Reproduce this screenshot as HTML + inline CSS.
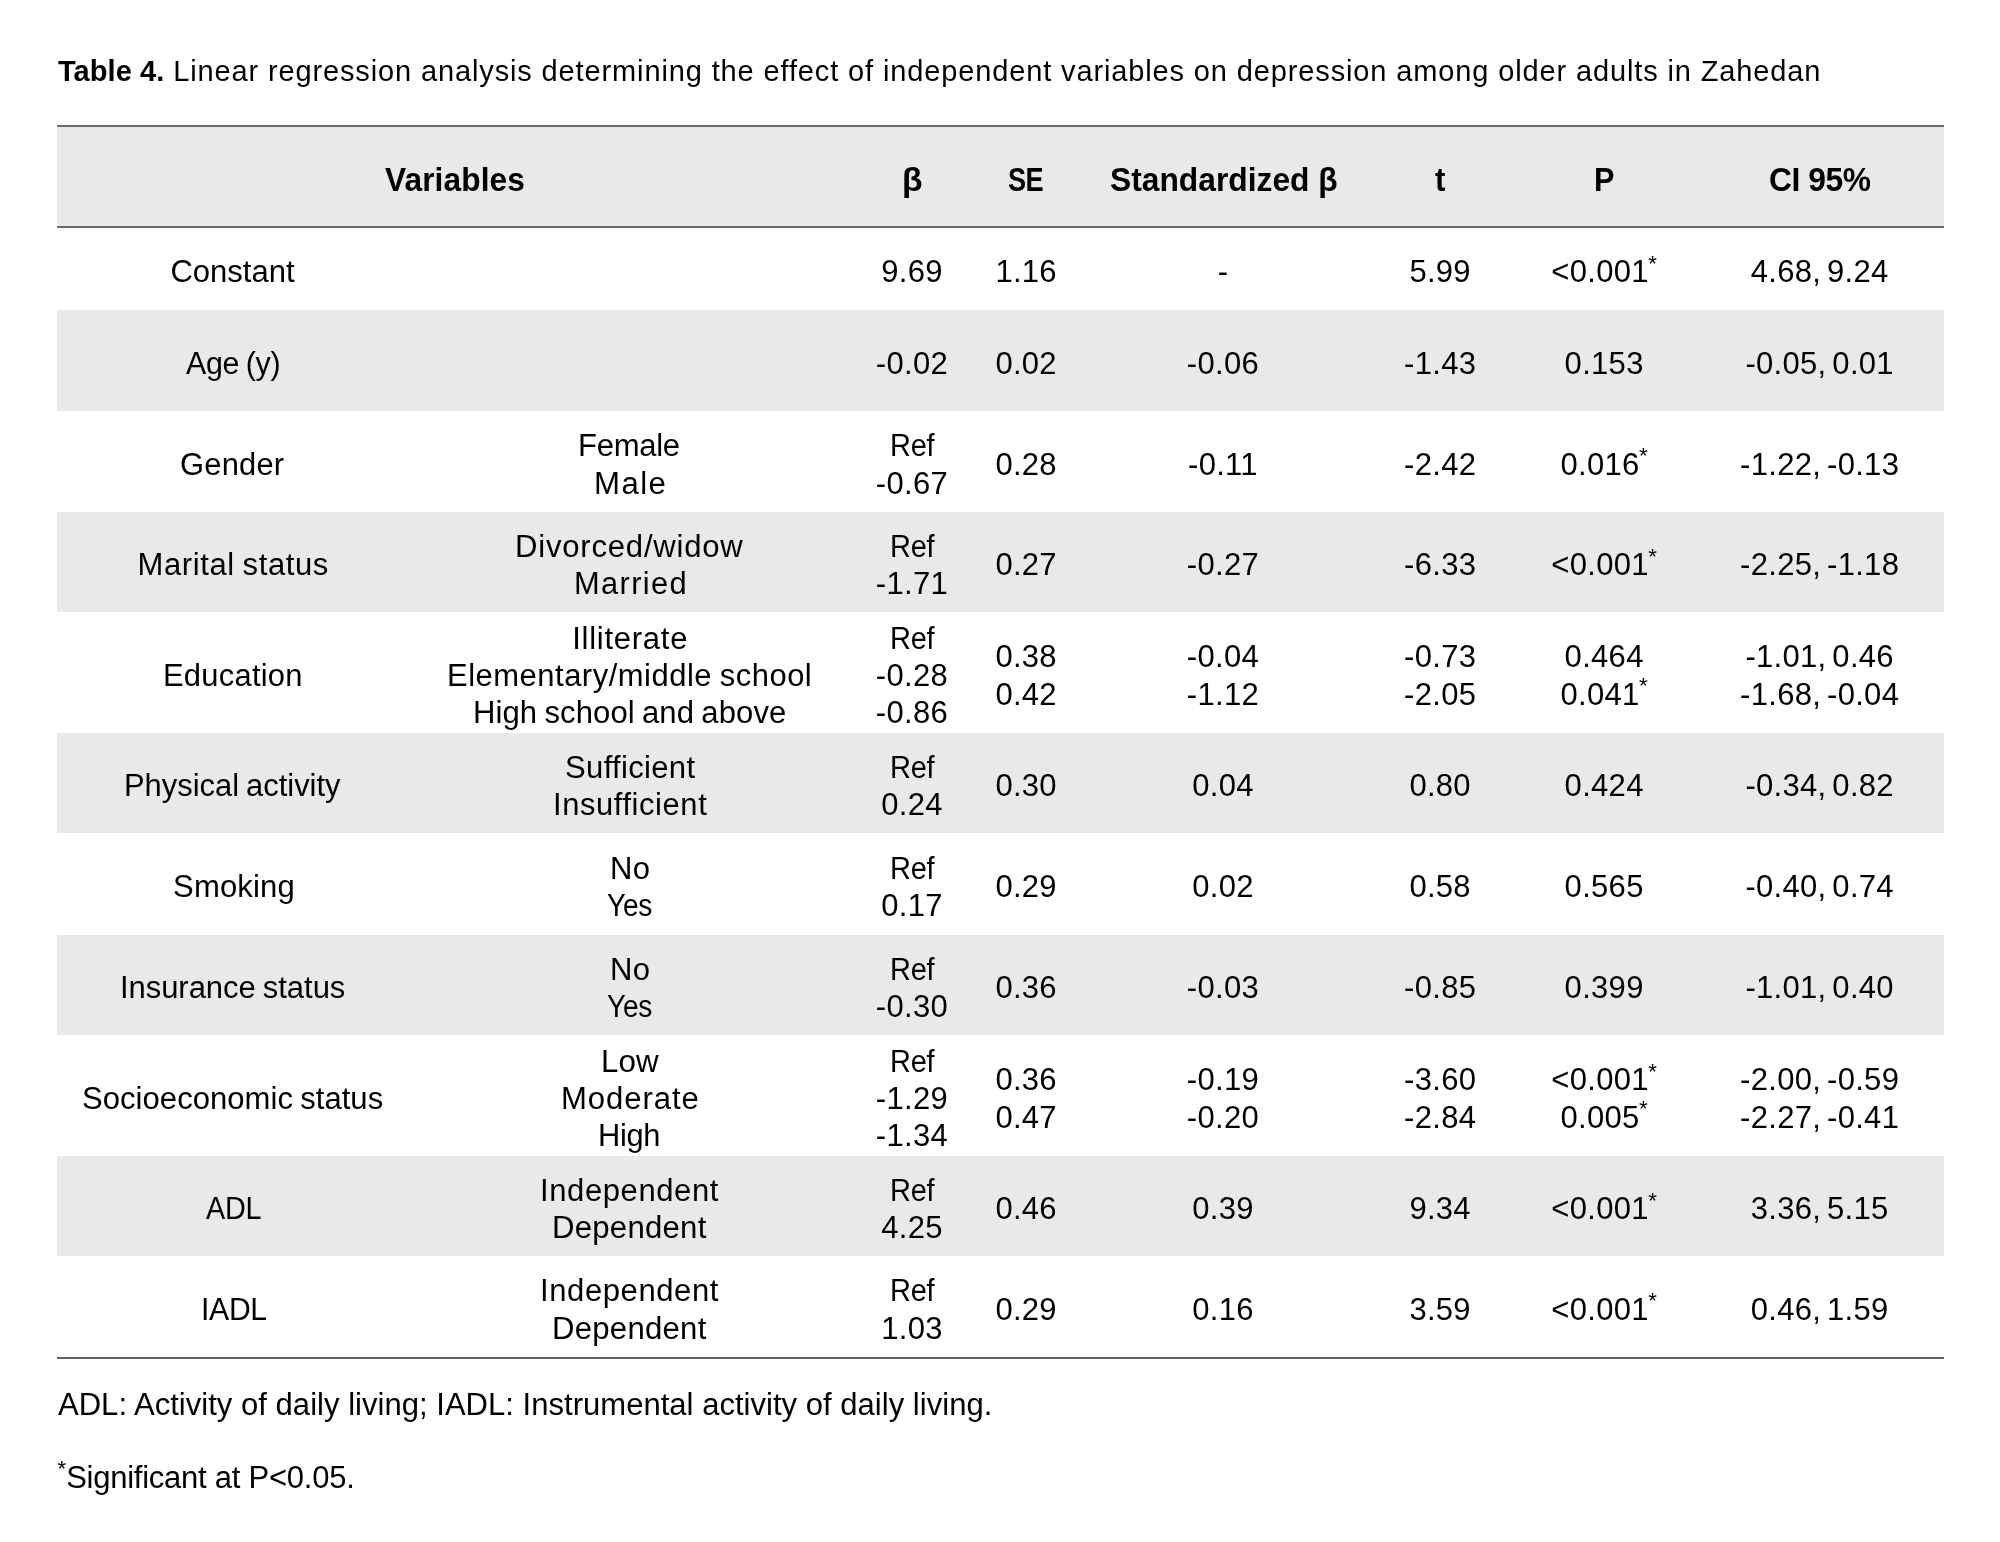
<!DOCTYPE html>
<html><head><meta charset="utf-8"><style>
html,body{margin:0;padding:0;background:#fff;}
body{width:2000px;height:1542px;position:relative;overflow:hidden;filter:grayscale(1);font-family:"Liberation Sans",sans-serif;color:#000;}
.bg{position:absolute;left:57px;width:1887px;background:#e9e9e9;}
.ln{position:absolute;left:57px;width:1887px;height:2px;background:#6f6f6f;}
.b,.h{position:absolute;white-space:pre;font-size:31.0px;line-height:31.0px;letter-spacing:0.3px;word-spacing:-1.5px;}
.C{width:700px;text-align:center;text-indent:0.3px;}
.L{transform-origin:0 0;}
.n{word-spacing:-3.0px;}
.h{font-weight:bold;font-size:33.4px;line-height:33.4px;letter-spacing:0;word-spacing:0;}
.h.C{transform:scaleX(0.95);text-indent:0;}
.a{font-size:0.72em;position:relative;top:-0.52em;margin-left:-0.5px;letter-spacing:0;}
.ti{position:absolute;left:58px;top:57.1px;font-size:29.0px;line-height:29.0px;white-space:pre;letter-spacing:0.87px;}
.fn{position:absolute;left:58px;font-size:31.0px;line-height:31.0px;white-space:pre;letter-spacing:0.03px;}
</style></head><body>
<div class="ti"><b style="letter-spacing:0.05px">Table 4.</b> Linear regression analysis determining the effect of independent variables on depression among older adults in Zahedan</div>
<div class="bg" style="top:310px;height:101px"></div>
<div class="bg" style="top:512px;height:100px"></div>
<div class="bg" style="top:733px;height:100px"></div>
<div class="bg" style="top:935px;height:100px"></div>
<div class="bg" style="top:1156px;height:100px"></div>
<div class="bg" style="top:125px;height:103px"></div>
<div class="ln" style="top:125px;background:#6b6b6b"></div>
<div class="ln" style="top:226px;background:#6b6b6b"></div>
<div class="ln" style="top:1357px;background:#626262"></div>
<div class="h L" style="left:384.5px;top:162.7px;letter-spacing:0.106px;transform:scaleX(0.9486)">Variables</div>
<div class="h L" style="left:901.8px;top:162.7px;letter-spacing:0.0px;transform:scaleX(1.0102)">β</div>
<div class="h L" style="left:1007.8px;top:162.7px;letter-spacing:-0.8px;transform:scaleX(0.8136)">SE</div>
<div class="h L" style="left:1109.7px;top:162.7px;letter-spacing:0.017px;transform:scaleX(0.9508)">Standardized β</div>
<div class="h L" style="left:1434.6px;top:162.7px;letter-spacing:0.0px;transform:scaleX(0.9341)">t</div>
<div class="h L" style="left:1593.8px;top:162.7px;letter-spacing:0.0px;transform:scaleX(0.9185)">P</div>
<div class="h L" style="left:1769.0px;top:162.7px;letter-spacing:-0.421px;transform:scaleX(0.9501)">CI 95%</div>
<div class="b L" style="left:170.4px;top:256.4px;letter-spacing:0.014px;transform:scaleX(1.0)">Constant</div>
<div class="b n C" style="left:561.8px;top:256.4px;">9.69</div>
<div class="b n C" style="left:676.0px;top:256.4px;">1.16</div>
<div class="b n C" style="left:872.8px;top:256.4px;">-</div>
<div class="b n C" style="left:1090.0px;top:256.4px;">5.99</div>
<div class="b n C" style="left:1254.0px;top:256.4px;">&lt;0.001<span class="a">*</span></div>
<div class="b n C" style="left:1469.5px;top:256.4px;">4.68, 9.24</div>
<div class="b L" style="left:185.9px;top:347.9px;letter-spacing:-0.3px;transform:scaleX(0.9789)">Age (y)</div>
<div class="b n C" style="left:561.8px;top:347.9px;">-0.02</div>
<div class="b n C" style="left:676.0px;top:347.9px;">0.02</div>
<div class="b n C" style="left:872.8px;top:347.9px;">-0.06</div>
<div class="b n C" style="left:1090.0px;top:347.9px;">-1.43</div>
<div class="b n C" style="left:1254.0px;top:347.9px;">0.153</div>
<div class="b n C" style="left:1469.5px;top:347.9px;">-0.05, 0.01</div>
<div class="b L" style="left:180.2px;top:448.9px;letter-spacing:0.22px;transform:scaleX(0.996)">Gender</div>
<div class="b L" style="left:578.0px;top:430.2px;letter-spacing:-0.3px;transform:scaleX(1.0021)">Female</div>
<div class="b L" style="left:593.7px;top:467.5px;letter-spacing:1.4px;transform:scaleX(1.006)">Male</div>
<div class="b n L" style="left:889.5px;top:430.2px;letter-spacing:-0.3px;transform:scaleX(0.9339)">Ref</div>
<div class="b n C" style="left:561.8px;top:467.5px;">-0.67</div>
<div class="b n C" style="left:676.0px;top:448.9px;">0.28</div>
<div class="b n C" style="left:872.8px;top:448.9px;">-0.11</div>
<div class="b n C" style="left:1090.0px;top:448.9px;">-2.42</div>
<div class="b n C" style="left:1254.0px;top:448.9px;">0.016<span class="a">*</span></div>
<div class="b n C" style="left:1469.5px;top:448.9px;">-1.22, -0.13</div>
<div class="b L" style="left:137.6px;top:549.4px;letter-spacing:0.607px;transform:scaleX(1.0)">Marital status</div>
<div class="b L" style="left:515.2px;top:530.7px;letter-spacing:0.792px;transform:scaleX(1.0018)">Divorced/widow</div>
<div class="b L" style="left:573.7px;top:568.0px;letter-spacing:1.367px;transform:scaleX(0.9944)">Married</div>
<div class="b n L" style="left:889.5px;top:530.7px;letter-spacing:-0.3px;transform:scaleX(0.9339)">Ref</div>
<div class="b n C" style="left:561.8px;top:568.0px;">-1.71</div>
<div class="b n C" style="left:676.0px;top:549.4px;">0.27</div>
<div class="b n C" style="left:872.8px;top:549.4px;">-0.27</div>
<div class="b n C" style="left:1090.0px;top:549.4px;">-6.33</div>
<div class="b n C" style="left:1254.0px;top:549.4px;">&lt;0.001<span class="a">*</span></div>
<div class="b n C" style="left:1469.5px;top:549.4px;">-2.25, -1.18</div>
<div class="b L" style="left:162.7px;top:659.9px;letter-spacing:0.25px;transform:scaleX(0.997)">Education</div>
<div class="b L" style="left:572.2px;top:622.6px;letter-spacing:0.745px;transform:scaleX(1.0)">Illiterate</div>
<div class="b L" style="left:447.4px;top:659.9px;letter-spacing:0.526px;transform:scaleX(0.9978)">Elementary/middle school</div>
<div class="b L" style="left:472.9px;top:697.2px;letter-spacing:0.11px;transform:scaleX(1.0006)">High school and above</div>
<div class="b n L" style="left:889.5px;top:622.6px;letter-spacing:-0.3px;transform:scaleX(0.9339)">Ref</div>
<div class="b n C" style="left:561.8px;top:659.9px;">-0.28</div>
<div class="b n C" style="left:561.8px;top:697.2px;">-0.86</div>
<div class="b n C" style="left:676.0px;top:641.2px;">0.38</div>
<div class="b n C" style="left:676.0px;top:678.5px;">0.42</div>
<div class="b n C" style="left:872.8px;top:641.2px;">-0.04</div>
<div class="b n C" style="left:872.8px;top:678.5px;">-1.12</div>
<div class="b n C" style="left:1090.0px;top:641.2px;">-0.73</div>
<div class="b n C" style="left:1090.0px;top:678.5px;">-2.05</div>
<div class="b n C" style="left:1254.0px;top:641.2px;">0.464</div>
<div class="b n C" style="left:1254.0px;top:678.5px;">0.041<span class="a">*</span></div>
<div class="b n C" style="left:1469.5px;top:641.2px;">-1.01, 0.46</div>
<div class="b n C" style="left:1469.5px;top:678.5px;">-1.68, -0.04</div>
<div class="b L" style="left:123.7px;top:770.4px;letter-spacing:0.001px;transform:scaleX(0.9962)">Physical activity</div>
<div class="b L" style="left:564.8px;top:751.7px;letter-spacing:0.323px;transform:scaleX(1.0016)">Sufficient</div>
<div class="b L" style="left:552.8px;top:789.0px;letter-spacing:0.609px;transform:scaleX(0.996)">Insufficient</div>
<div class="b n L" style="left:889.5px;top:751.7px;letter-spacing:-0.3px;transform:scaleX(0.9339)">Ref</div>
<div class="b n C" style="left:561.8px;top:789.0px;">0.24</div>
<div class="b n C" style="left:676.0px;top:770.4px;">0.30</div>
<div class="b n C" style="left:872.8px;top:770.4px;">0.04</div>
<div class="b n C" style="left:1090.0px;top:770.4px;">0.80</div>
<div class="b n C" style="left:1254.0px;top:770.4px;">0.424</div>
<div class="b n C" style="left:1469.5px;top:770.4px;">-0.34, 0.82</div>
<div class="b L" style="left:172.7px;top:871.4px;letter-spacing:0.166px;transform:scaleX(1.0017)">Smoking</div>
<div class="b L" style="left:610.0px;top:852.7px;letter-spacing:0.3px;transform:scaleX(1.0)">No</div>
<div class="b L" style="left:607.0px;top:890.0px;letter-spacing:-0.3px;transform:scaleX(0.9062)">Yes</div>
<div class="b n L" style="left:889.5px;top:852.7px;letter-spacing:-0.3px;transform:scaleX(0.9339)">Ref</div>
<div class="b n C" style="left:561.8px;top:890.0px;">0.17</div>
<div class="b n C" style="left:676.0px;top:871.4px;">0.29</div>
<div class="b n C" style="left:872.8px;top:871.4px;">0.02</div>
<div class="b n C" style="left:1090.0px;top:871.4px;">0.58</div>
<div class="b n C" style="left:1254.0px;top:871.4px;">0.565</div>
<div class="b n C" style="left:1469.5px;top:871.4px;">-0.40, 0.74</div>
<div class="b L" style="left:119.9px;top:972.4px;letter-spacing:-0.033px;transform:scaleX(1.0)">Insurance status</div>
<div class="b L" style="left:610.0px;top:953.7px;letter-spacing:0.3px;transform:scaleX(1.0)">No</div>
<div class="b L" style="left:607.0px;top:991.0px;letter-spacing:-0.3px;transform:scaleX(0.9062)">Yes</div>
<div class="b n L" style="left:889.5px;top:953.7px;letter-spacing:-0.3px;transform:scaleX(0.9339)">Ref</div>
<div class="b n C" style="left:561.8px;top:991.0px;">-0.30</div>
<div class="b n C" style="left:676.0px;top:972.4px;">0.36</div>
<div class="b n C" style="left:872.8px;top:972.4px;">-0.03</div>
<div class="b n C" style="left:1090.0px;top:972.4px;">-0.85</div>
<div class="b n C" style="left:1254.0px;top:972.4px;">0.399</div>
<div class="b n C" style="left:1469.5px;top:972.4px;">-1.01, 0.40</div>
<div class="b L" style="left:82.0px;top:1082.9px;letter-spacing:0.048px;transform:scaleX(1.0007)">Socioeconomic status</div>
<div class="b L" style="left:600.5px;top:1045.6px;letter-spacing:0.1px;transform:scaleX(1.0112)">Low</div>
<div class="b L" style="left:561.0px;top:1082.9px;letter-spacing:0.929px;transform:scaleX(1.003)">Moderate</div>
<div class="b L" style="left:598.2px;top:1120.2px;letter-spacing:-0.3px;transform:scaleX(0.9932)">High</div>
<div class="b n L" style="left:889.5px;top:1045.6px;letter-spacing:-0.3px;transform:scaleX(0.9339)">Ref</div>
<div class="b n C" style="left:561.8px;top:1082.9px;">-1.29</div>
<div class="b n C" style="left:561.8px;top:1120.2px;">-1.34</div>
<div class="b n C" style="left:676.0px;top:1064.2px;">0.36</div>
<div class="b n C" style="left:676.0px;top:1101.5px;">0.47</div>
<div class="b n C" style="left:872.8px;top:1064.2px;">-0.19</div>
<div class="b n C" style="left:872.8px;top:1101.5px;">-0.20</div>
<div class="b n C" style="left:1090.0px;top:1064.2px;">-3.60</div>
<div class="b n C" style="left:1090.0px;top:1101.5px;">-2.84</div>
<div class="b n C" style="left:1254.0px;top:1064.2px;">&lt;0.001<span class="a">*</span></div>
<div class="b n C" style="left:1254.0px;top:1101.5px;">0.005<span class="a">*</span></div>
<div class="b n C" style="left:1469.5px;top:1064.2px;">-2.00, -0.59</div>
<div class="b n C" style="left:1469.5px;top:1101.5px;">-2.27, -0.41</div>
<div class="b L" style="left:205.9px;top:1193.4px;letter-spacing:-0.3px;transform:scaleX(0.9288)">ADL</div>
<div class="b L" style="left:540.0px;top:1174.7px;letter-spacing:0.6px;transform:scaleX(1.0)">Independent</div>
<div class="b L" style="left:552.2px;top:1212.0px;letter-spacing:0.25px;transform:scaleX(1.004)">Dependent</div>
<div class="b n L" style="left:889.5px;top:1174.7px;letter-spacing:-0.3px;transform:scaleX(0.9339)">Ref</div>
<div class="b n C" style="left:561.8px;top:1212.0px;">4.25</div>
<div class="b n C" style="left:676.0px;top:1193.4px;">0.46</div>
<div class="b n C" style="left:872.8px;top:1193.4px;">0.39</div>
<div class="b n C" style="left:1090.0px;top:1193.4px;">9.34</div>
<div class="b n C" style="left:1254.0px;top:1193.4px;">&lt;0.001<span class="a">*</span></div>
<div class="b n C" style="left:1469.5px;top:1193.4px;">3.36, 5.15</div>
<div class="b L" style="left:200.6px;top:1293.9px;letter-spacing:-0.3px;transform:scaleX(0.972)">IADL</div>
<div class="b L" style="left:540.0px;top:1275.2px;letter-spacing:0.6px;transform:scaleX(1.0)">Independent</div>
<div class="b L" style="left:552.2px;top:1312.5px;letter-spacing:0.25px;transform:scaleX(1.004)">Dependent</div>
<div class="b n L" style="left:889.5px;top:1275.2px;letter-spacing:-0.3px;transform:scaleX(0.9339)">Ref</div>
<div class="b n C" style="left:561.8px;top:1312.5px;">1.03</div>
<div class="b n C" style="left:676.0px;top:1293.9px;">0.29</div>
<div class="b n C" style="left:872.8px;top:1293.9px;">0.16</div>
<div class="b n C" style="left:1090.0px;top:1293.9px;">3.59</div>
<div class="b n C" style="left:1254.0px;top:1293.9px;">&lt;0.001<span class="a">*</span></div>
<div class="b n C" style="left:1469.5px;top:1293.9px;">0.46, 1.59</div>
<div class="fn" style="top:1389.3px">ADL: Activity of daily living; IADL: Instrumental activity of daily living.</div>
<div class="fn" style="top:1461.8px;letter-spacing:-0.25px"><span class="a">*</span>Significant at P&lt;0.05.</div>
</body></html>
